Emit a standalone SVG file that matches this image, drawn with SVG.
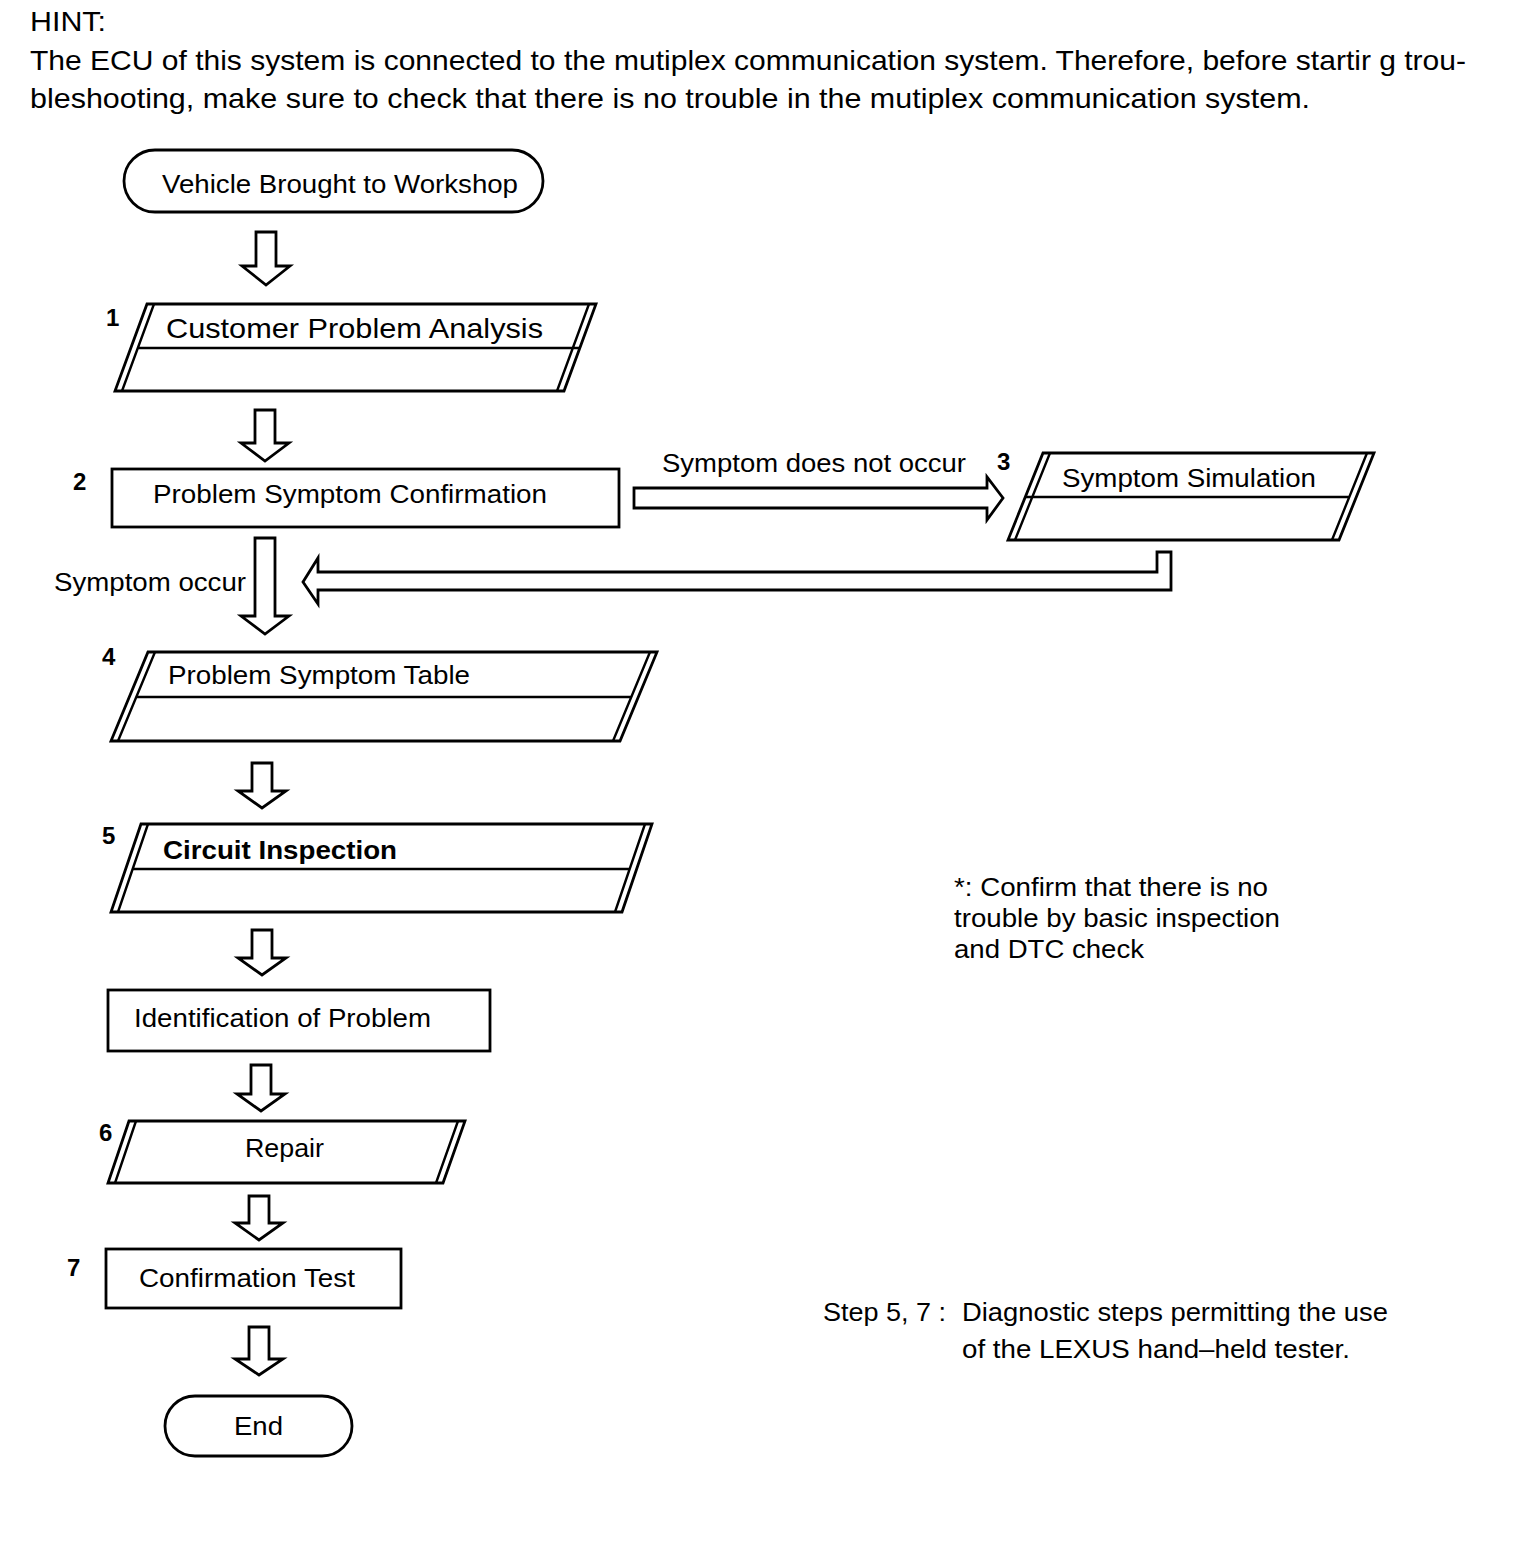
<svg xmlns="http://www.w3.org/2000/svg" width="1520" height="1546" viewBox="0 0 1520 1546">
<style>
text{font-family:"Liberation Sans",Arial,sans-serif;fill:#000}
.t{font-size:26px}
.h{font-size:28px}
.n{font-size:24px;font-weight:bold}
.b{font-weight:bold}
.s{fill:#fff;stroke:#000;stroke-width:2.8;stroke-linejoin:miter}
.l{fill:none;stroke:#000;stroke-width:2.4}
</style>
<rect width="1520" height="1546" fill="#fff"/>
<g id="hint">
<text class="h" x="30" y="31" textLength="76" lengthAdjust="spacingAndGlyphs">HINT:</text>
<text class="h" x="30" y="70" textLength="1436" lengthAdjust="spacingAndGlyphs">The ECU of this system is connected to the mutiplex communication system. Therefore, before startir g trou-</text>
<text class="h" x="30" y="108" textLength="1280" lengthAdjust="spacingAndGlyphs">bleshooting, make sure to check that there is no trouble in the mutiplex communication system.</text>
</g>
<g id="connectors">
<path class="s" d="M256,232 H276 V266 H290 L266,285 L242,266 H256 Z"/>
<path class="s" d="M255,410 H275 V443 H289 L265,461 L241,443 H255 Z"/>
<path class="s" d="M634,488 H987 V477 L1003,498 L987,520 V508 H634 Z"/>
<path class="s" d="M1157,552 H1171 V590 H318 V604 L303,582 L318,558 V572 H1157 Z"/>
<path class="s" d="M255,538 H275 V616 H289 L265,634 L241,616 H255 Z"/>
<path class="s" d="M252,763 H272 V791 H286 L262,808 L238,791 H252 Z"/>
<path class="s" d="M252,930 H272 V958 H286 L262,975 L238,958 H252 Z"/>
<path class="s" d="M251,1065 H271 V1094 H285 L261,1111 L237,1094 H251 Z"/>
<path class="s" d="M249,1196 H269 V1223 H283 L259,1240 L235,1223 H249 Z"/>
<path class="s" d="M249,1327 H269 V1359 H283 L259,1375 L235,1359 H249 Z"/>
<text class="t" x="662" y="472" textLength="304" lengthAdjust="spacingAndGlyphs">Symptom does not occur</text>
<text class="t" x="54" y="591" textLength="192" lengthAdjust="spacingAndGlyphs">Symptom occur</text>
</g>
<g id="start">
<rect class="s" x="124" y="150" width="419" height="62" rx="31"/>
<text class="t" x="162" y="193" textLength="356" lengthAdjust="spacingAndGlyphs">Vehicle Brought to Workshop</text>
</g>
<g id="step1">
<path class="s" d="M147,304 H596 L564,391 H115 Z"/>
<path class="l" d="M154,304 L122,391 M589,304 L557,391 M138,348 H580"/>
<text class="t" x="166" y="338" textLength="377" lengthAdjust="spacingAndGlyphs" style="font-size:28px">Customer Problem Analysis</text>
<text class="n" x="106" y="326">1</text>
</g>
<g id="step2">
<rect class="s" x="112" y="469" width="507" height="58"/>
<text class="t" x="153" y="503" textLength="394" lengthAdjust="spacingAndGlyphs">Problem Symptom Confirmation</text>
<text class="n" x="73" y="490">2</text>
</g>
<g id="step3">
<path class="s" d="M1043,453 H1374 L1339,540 H1008 Z"/>
<path class="l" d="M1050,453 L1015,540 M1367,453 L1332,540 M1025,497 H1350"/>
<text class="t" x="1062" y="487" textLength="254" lengthAdjust="spacingAndGlyphs">Symptom Simulation</text>
<text class="n" x="997" y="470">3</text>
</g>
<g id="step4">
<path class="s" d="M148,652 H657 L620,741 H111 Z"/>
<path class="l" d="M155,652 L118,741 M650,652 L613,741 M136,697 H632"/>
<text class="t" x="168" y="684" textLength="302" lengthAdjust="spacingAndGlyphs">Problem Symptom Table</text>
<text class="n" x="102" y="665">4</text>
</g>
<g id="step5">
<path class="s" d="M141,824 H652 L622,912 H111 Z"/>
<path class="l" d="M148,824 L118,912 M645,824 L615,912 M133,869 H630"/>
<text class="t b" x="163" y="859" textLength="234" lengthAdjust="spacingAndGlyphs">Circuit Inspection</text>
<text class="n" x="102" y="844">5</text>
</g>
<g id="identification">
<rect class="s" x="108" y="990" width="382" height="61"/>
<text class="t" x="134" y="1027" textLength="297" lengthAdjust="spacingAndGlyphs">Identification of Problem</text>
</g>
<g id="step6">
<path class="s" d="M129,1121 H465 L443,1183 H108 Z"/>
<path class="l" d="M136,1121 L115,1183 M458,1121 L436,1183"/>
<text class="t" x="245" y="1157" textLength="79" lengthAdjust="spacingAndGlyphs">Repair</text>
<text class="n" x="99" y="1141">6</text>
</g>
<g id="step7">
<rect class="s" x="106" y="1249" width="295" height="59"/>
<text class="t" x="139" y="1287" textLength="216" lengthAdjust="spacingAndGlyphs">Confirmation Test</text>
<text class="n" x="67" y="1276">7</text>
</g>
<g id="end">
<rect class="s" x="165" y="1396" width="187" height="60" rx="30"/>
<text class="t" x="234" y="1435" textLength="49" lengthAdjust="spacingAndGlyphs">End</text>
</g>
<g id="notes">
<text class="t" x="954" y="896" textLength="314" lengthAdjust="spacingAndGlyphs">*: Confirm that there is no</text>
<text class="t" x="954" y="927" textLength="326" lengthAdjust="spacingAndGlyphs">trouble by basic inspection</text>
<text class="t" x="954" y="958" textLength="190" lengthAdjust="spacingAndGlyphs">and DTC check</text>
<text class="t" x="823" y="1321" textLength="123" lengthAdjust="spacingAndGlyphs">Step 5, 7 :</text>
<text class="t" x="962" y="1321" textLength="426" lengthAdjust="spacingAndGlyphs">Diagnostic steps permitting the use</text>
<text class="t" x="962" y="1358" textLength="388" lengthAdjust="spacingAndGlyphs">of the LEXUS hand–held tester.</text>
</g>
</svg>
